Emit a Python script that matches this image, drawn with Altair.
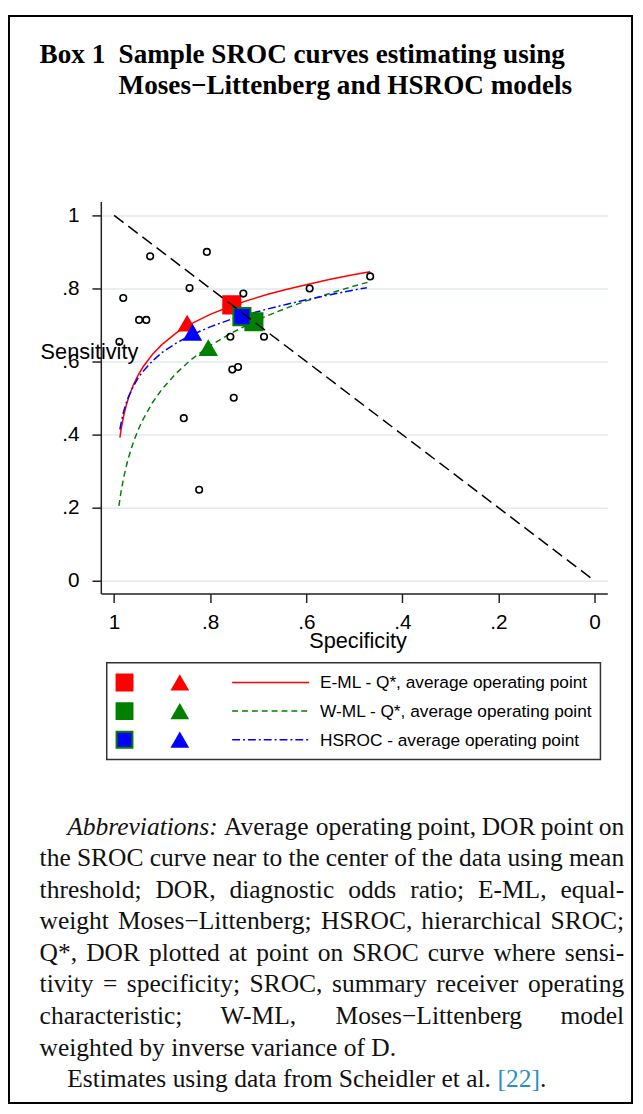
import altair as alt
import pandas as pd

# ---------------- data ----------------
study_spec = [0.925, 0.807, 0.981, 0.948, 0.933, 0.843, 0.731, 0.593, 0.989,
              0.758, 0.688, 0.754, 0.742, 0.751, 0.855, 0.823, 0.467]
study_sens = [0.888, 0.900, 0.774, 0.714, 0.714, 0.801, 0.786, 0.800, 0.654,
              0.668, 0.668, 0.578, 0.585, 0.501, 0.445, 0.249, 0.833]

eml_spec = [0.988, 0.985, 0.98, 0.975, 0.97, 0.96, 0.95, 0.94, 0.92, 0.90, 0.87,
            0.84, 0.80, 0.76, 0.72, 0.68, 0.64, 0.60, 0.55, 0.50, 0.467]
eml_sens = [0.392, 0.418, 0.452, 0.479, 0.501, 0.536, 0.563, 0.585, 0.620, 0.647, 0.679,
            0.703, 0.729, 0.750, 0.768, 0.784, 0.798, 0.810, 0.825, 0.838, 0.846]

wml_spec = [0.990, 0.985, 0.98, 0.975, 0.97, 0.96, 0.95, 0.94, 0.92, 0.90, 0.87,
            0.84, 0.80, 0.76, 0.72, 0.68, 0.64, 0.60, 0.55, 0.50, 0.466]
wml_sens = [0.205, 0.249, 0.283, 0.312, 0.337, 0.379, 0.413, 0.441, 0.488, 0.525, 0.569,
            0.605, 0.644, 0.675, 0.702, 0.726, 0.747, 0.766, 0.787, 0.807, 0.819]

hs_spec = [0.988, 0.985, 0.98, 0.975, 0.97, 0.96, 0.95, 0.94, 0.92, 0.90, 0.87,
           0.84, 0.80, 0.76, 0.72, 0.68, 0.64, 0.60, 0.55, 0.50, 0.474]
hs_sens = [0.414, 0.435, 0.464, 0.486, 0.504, 0.532, 0.555, 0.573, 0.602, 0.625, 0.651,
           0.672, 0.695, 0.714, 0.730, 0.744, 0.757, 0.769, 0.783, 0.796, 0.802]

diag_spec = [1.0, 0.0]
diag_sens = [1.0, 0.0]

# Q* (squares) and average operating points (triangles): E-ML, W-ML, HSROC
models = ["E-ML", "W-ML", "HSROC"]
sq_spec = [0.755, 0.709, 0.734]
sq_sens = [0.755, 0.709, 0.723]
tri_spec = [0.848, 0.804, 0.837]
tri_sens = [0.705, 0.638, 0.680]

tick_vals = [0, 0.2, 0.4, 0.6, 0.8, 1]
legend_labels = ["E-ML - Q*, average operating point",
                 "W-ML - Q*, average operating point",
                 "HSROC - average operating point"]

title_lines = ["Box 1", "Sample SROC curves estimating using",
               "Moses\u2212Littenberg and HSROC models"]

para_lines = [
    "Abbreviations: Average operating point, DOR point on",
    "the SROC curve near to the center of the data using mean",
    "threshold; DOR, diagnostic odds ratio; E-ML, equal-",
    "weight Moses\u2212Littenberg; HSROC, hierarchical SROC;",
    "Q*, DOR plotted at point on SROC curve where sensi-",
    "tivity = specificity; SROC, summary receiver operating",
    "characteristic; W-ML, Moses\u2212Littenberg model",
    "weighted by inverse variance of D.",
]
last_parts = ["Estimates using data from Scheidler et al. ", "[22]", "."]

# ---------------- styling / layout ----------------
RED, GREEN, BLUE = "#ff0000", "#008000", "#0000ff"
SANS = "Liberation Sans"
SERIF = "Liberation Serif"
W, H = 513, 397
OX, OY = 102, 197          # page position of plot area


def px(x):
    return x - OX


def py(y):
    return y - OY


xscale = alt.Scale(domain=[-0.0267, 1.0277], reverse=True, nice=False, zero=False)
yscale = alt.Scale(domain=[-0.0351, 1.0378], nice=False, zero=False)
lab = "datum.value == 0 ? '0' : datum.value == 1 ? '1' : '.' + round(datum.value*10)"

xaxis = alt.Axis(values=tick_vals, labelExpr=lab, title="Specificity",
                 titleFont=SANS, titleFontSize=22, titleFontWeight="normal",
                 titleColor="black", titleX=260, titleY=55, titleAlign="center",
                 titleBaseline="alphabetic", labelFont=SANS, labelFontSize=21,
                 labelColor="black", labelPadding=9, tickSize=9, tickWidth=1.5,
                 tickColor="#222", domainColor="#222", domainWidth=1.5, grid=False,
                 labelFlush=False, labelOverlap=False)
yaxis = alt.Axis(values=tick_vals, labelExpr=lab, title="Sensitivity",
                 titleFont=SANS, titleFontSize=22, titleFontWeight="normal",
                 titleColor="black", titleAngle=0, titleX=-12, titleY=159,
                 titleAlign="center", titleBaseline="alphabetic",
                 labelFont=SANS, labelFontSize=21, labelColor="black",
                 labelPadding=13, tickSize=9, tickWidth=1.5, tickColor="#222",
                 domainColor="#222", domainWidth=1.5, grid=True,
                 gridColor="#e3eaec", gridWidth=1.5, labelFlush=False,
                 labelOverlap=False)


def X():
    return alt.X("spec:Q", scale=xscale, axis=xaxis)


def Y():
    return alt.Y("sens:Q", scale=yscale, axis=yaxis)


def df2(s, t):
    return pd.DataFrame({"spec": s, "sens": t})


one = pd.DataFrame({"a": [0]})
layers = []

# curves
layers.append(alt.Chart(df2(eml_spec, eml_sens)).mark_line(color=RED, strokeWidth=1.5)
              .encode(x=X(), y=Y()))
layers.append(alt.Chart(df2(wml_spec, wml_sens)).mark_line(color=GREEN, strokeWidth=1.5,
              strokeDash=[6, 4]).encode(x=X(), y=Y()))
layers.append(alt.Chart(df2(hs_spec, hs_sens)).mark_line(color=BLUE, strokeWidth=1.5,
              strokeDash=[8, 3, 2, 3]).encode(x=X(), y=Y()))

# markers
sq_fill = [RED, GREEN, BLUE]
sq_stroke = [RED, GREEN, GREEN]
cols = [RED, GREEN, BLUE]
for i in range(3):
    layers.append(alt.Chart(df2([sq_spec[i]], [sq_sens[i]])).mark_point(
        shape="square", filled=True, fill=sq_fill[i], stroke=sq_stroke[i],
        strokeWidth=2, size=300, opacity=1).encode(x=X(), y=Y()))
for i in range(3):
    layers.append(alt.Chart(df2([tri_spec[i]], [tri_sens[i]])).mark_point(
        shape="triangle-up", filled=True, color=cols[i], size=390,
        opacity=1).encode(x=X(), y=Y()))

# diagonal
layers.append(alt.Chart(df2(diag_spec, diag_sens)).mark_line(
    color="black", strokeWidth=1.5, strokeDash=[12, 6]).encode(x=X(), y=Y()))

# study points
layers.append(alt.Chart(df2(study_spec, study_sens)).mark_point(
    shape="circle", filled=False, color="black", size=44, strokeWidth=1.6,
    opacity=1).encode(x=X(), y=Y()))

# ---------------- frame and title ----------------
layers.append(alt.Chart(one).mark_rect(fillOpacity=0, stroke="black", strokeWidth=2).encode(
    x=alt.value(px(9)), x2=alt.value(px(640)), y=alt.value(py(9)), y2=alt.value(py(1110))))

for txt, xx, yy in [(title_lines[0], 40, 57), (title_lines[1], 120, 57),
                    (title_lines[2], 120, 88)]:
    layers.append(alt.Chart(one).mark_text(
        text=txt, font=SERIF, fontSize=27.5, fontWeight="bold", color="black",
        align="left", baseline="alphabetic").encode(x=alt.value(px(xx)), y=alt.value(py(yy))))

# ---------------- legend ----------------
layers.append(alt.Chart(one).mark_rect(fillOpacity=0, stroke="#333", strokeWidth=1.5).encode(
    x=alt.value(px(108)), x2=alt.value(px(608)), y=alt.value(py(664)), y2=alt.value(py(762))))
rows_y = [684, 713, 742]
dashes = [None, [6, 4], [8, 3, 2, 3]]
for i in range(3):
    yy = rows_y[i]
    layers.append(alt.Chart(one).mark_point(
        shape="square", filled=True, fill=sq_fill[i], stroke=sq_stroke[i], strokeWidth=2,
        size=260, opacity=1).encode(x=alt.value(px(126)), y=alt.value(py(yy))))
    layers.append(alt.Chart(one).mark_point(
        shape="triangle-up", filled=True, color=cols[i], size=360,
        opacity=1).encode(x=alt.value(px(182)), y=alt.value(py(yy))))
    kw = dict(color=cols[i], strokeWidth=1.5)
    if dashes[i]:
        kw["strokeDash"] = dashes[i]
    layers.append(alt.Chart(one).mark_rule(**kw).encode(
        x=alt.value(px(235)), x2=alt.value(px(313)), y=alt.value(py(yy))))
    layers.append(alt.Chart(one).mark_text(
        text=legend_labels[i], font=SANS, fontSize=17.5, color="black", align="left",
        baseline="alphabetic").encode(x=alt.value(px(324)), y=alt.value(py(yy + 6))))

# ---------------- paragraph (justified) ----------------
TW = {" ": 250, ",": 250, ".": 250, ":": 278, ";": 278, "-": 333, "*": 500, "=": 564,
      "[": 333, "]": 333, "\u2212": 564, "2": 500}
TW.update(dict(zip("ABCDEFGHIJKLMNOPQRSTUVWXYZ",
                   [722, 667, 667, 722, 611, 556, 722, 722, 333, 389, 722, 611, 889,
                    722, 722, 556, 722, 667, 556, 611, 722, 722, 944, 722, 722, 611])))
TW.update(dict(zip("abcdefghijklmnopqrstuvwxyz",
                   [444, 500, 444, 500, 444, 333, 500, 500, 278, 278, 500, 278, 778,
                    500, 500, 500, 500, 333, 389, 278, 500, 500, 722, 500, 500, 444])))
TWI = {"A": 611, "b": 500, "r": 389, "e": 444, "v": 444, "i": 278, "a": 500,
       "t": 278, "o": 500, "n": 500, "s": 389, ":": 333}
FS = 25.8
LEFT, RIGHT, INDENT = 40, 632, 68
BASE0, LH = 838, 32


def tw(s, italic=False):
    tbl = TWI if italic else TW
    return sum(tbl.get(c, TW.get(c, 500)) for c in s) * FS / 1000.0


rows = []
for i, line in enumerate(para_lines):
    yy = BASE0 + LH * i
    x0 = INDENT if i == 0 else LEFT
    words = line.split(" ")
    if i == len(para_lines) - 1:
        rows.append((px(x0), py(yy), line, "n"))
        continue
    ws = [tw(w, italic=(i == 0 and j == 0)) for j, w in enumerate(words)]
    gap = (RIGHT - x0 - sum(ws)) / (len(words) - 1)
    xx = x0
    for j, w in enumerate(words):
        if j == len(words) - 1:
            rows.append((px(RIGHT), py(yy), w, "r"))
        else:
            rows.append((px(xx), py(yy), w, "i" if (i == 0 and j == 0) else "n"))
        xx += ws[j] + gap
yy = BASE0 + LH * len(para_lines)
xx = INDENT
for k, part in enumerate(last_parts):
    rows.append((px(xx), py(yy), part, "l" if k == 1 else "n"))
    xx += tw(part)
pdf = pd.DataFrame(rows, columns=["px", "py", "t", "kind"])

styles = {"n": dict(align="left", color="#111"),
          "r": dict(align="right", color="#111"),
          "i": dict(align="left", color="#111", fontStyle="italic"),
          "l": dict(align="left", color="#2a8fc4")}
for kind, st in styles.items():
    sub = pdf[pdf.kind == kind]
    layers.append(alt.Chart(sub).mark_text(font=SERIF, fontSize=FS, baseline="alphabetic",
                                           **st).encode(
        x=alt.X("px:Q", scale=None, axis=None), y=alt.Y("py:Q", scale=None, axis=None),
        text="t:N"))

chart = alt.layer(*layers).properties(
    width=W, height=H,
    padding={"left": 94, "top": 189, "right": 28, "bottom": 520},
    autosize=alt.AutoSizeParams(type="none"),
    background="white",
).configure_view(strokeWidth=0)

chart.save("out.html", embed_options={"renderer": "svg", "actions": False})
